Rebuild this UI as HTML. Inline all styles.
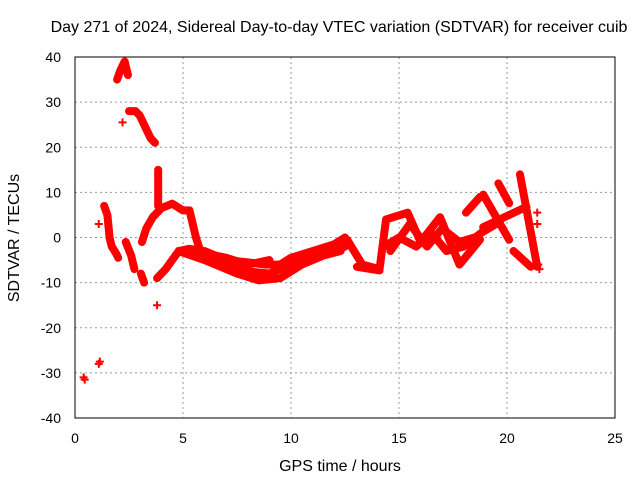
<!DOCTYPE html>
<html><head><meta charset="utf-8"><style>
body{margin:0;background:#fff}
svg{display:block;font-family:"Liberation Sans",sans-serif}
</style></head><body>
<svg id="chart" width="640" height="480" viewBox="0 0 640 480">
<text x="339" y="32" font-size="16" text-anchor="middle">Day 271 of 2024, Sidereal Day-to-day VTEC variation (SDTVAR) for receiver cuib</text>
<g id="grid"></g>
<g id="series"></g>
<rect x="75" y="57" width="540" height="361" fill="none" stroke="#000" stroke-width="1"/>
<g id="ticks"></g>
<text x="340" y="471" font-size="16" text-anchor="middle">GPS time / hours</text>
<text transform="translate(19,238) rotate(-90)" font-size="16" text-anchor="middle">SDTVAR / TECUs</text>
</svg>
<script>
const xTicks=[0,5,10,15,20,25];
const yTicks=[-40,-30,-20,-10,0,10,20,30,40];
// traces: [hour, value]
const traceA=[[1.35,7],[1.5,5],[1.6,0],[1.7,-2],[1.9,-3.5],[2.0,-4.5]];
const traceB=[[2.35,-1],[2.6,-4],[2.75,-7]];
const traceC=[[1.95,35],[2.1,37],[2.3,39],[2.45,36]];
const traceD=[[2.5,28],[2.8,28],[3.0,27],[3.2,25],[3.5,22],[3.7,21]];
const traceE=[[3.05,-8],[3.2,-10]];
const traceF=[[3.85,15],[3.85,7]];
const traceG=[[3.1,-1],[3.3,2],[3.6,4.5],[4.0,6.5],[4.5,7.5],[5.0,6],[5.3,6],[5.4,4],[5.6,0],[5.8,-3],[6.0,-4]];
const traceH=[[3.8,-9],[4.2,-7],[4.5,-5],[4.8,-3],[5.3,-2.5],[6,-3],[7,-5],[8,-5.5],[8.8,-6],[9.5,-6],[10,-4.5],[11,-3],[12,-1.5],[12.5,0]];
const traceI=[[4.8,-3],[6,-5],[7,-6],[8,-7.5],[9,-8],[10,-6],[11,-4.5],[12,-3],[12.5,-2]];
const traceJ=[[5.5,-4],[6.5,-6],[7.5,-8],[8.5,-9.5],[9.5,-9],[10.5,-6],[11.5,-4],[12.3,-3]];
const traceK=[[6,-3.5],[7,-4.5],[8,-6],[9,-5]];
const traceL=[[12.6,-0.5],[13.3,-6],[14.1,-7],[14.4,4],[15.4,5.5],[16,-1],[16.9,4.5],[17.8,-6],[18.75,-0.5]];
const traceM=[[13.05,-6.5],[14.1,-7.3]];
const traceN=[[14.3,-2],[15,0],[15.8,-2],[16.5,1],[17.2,-3],[18,-2],[18.8,1],[19.5,3]];
const traceO=[[14.6,-3],[15.5,3],[16.3,-2],[17,2],[17.8,-1],[18.5,0]];
const traceP=[[18.1,5.5],[18.75,9]];
const traceQ=[[18.9,9.5],[20.1,-0.5]];
const traceR=[[19.6,12],[20.1,7.6]];
const traceS=[[20.6,14],[21.4,-6.5]];
const traceT=[[20.3,-3],[21.1,-6.5]];
const traceU=[[18.9,2.3],[20.9,6.8]];
const points=[[0.4,-31],[0.45,-31.5],[1.15,-27.5],[1.1,-28],[1.1,3],[2.2,25.5],[3.8,-15],[21.4,5.5],[21.4,3],[21.5,-7],[21.45,-6]];
const traces=[traceA,traceB,traceC,traceD,traceE,traceF,traceG,traceH,traceI,traceJ,traceK,traceL,traceM,traceN,traceO,traceP,traceQ,traceR,traceS,traceT,traceU];

const NS="http://www.w3.org/2000/svg";
const X=h=>75+h*21.6;
const Y=v=>237.5-v*4.5125;
const grid=document.getElementById('grid'),ticks=document.getElementById('ticks'),ser=document.getElementById('series');
function mk(t,a,p){const e=document.createElementNS(NS,t);for(const k in a)e.setAttribute(k,a[k]);p.appendChild(e);return e;}
xTicks.forEach(t=>{
  if(t>0&&t<25){const g=mk('line',{x1:X(t),x2:X(t),y1:57,y2:418,stroke:'#999','stroke-dasharray':'2,3'},grid);
  
  }
  const l=mk('text',{x:X(t),y:443,'font-size':14,'text-anchor':'middle'},ticks);l.textContent=t;
  
  
});
yTicks.forEach(t=>{
  if(t>-40&&t<40){const g=mk('line',{x1:75,x2:615,y1:Y(t),y2:Y(t),stroke:'#999','stroke-dasharray':'2,3'},grid);
  
  }
  const l=mk('text',{x:61,y:Y(t)+5,'font-size':14,'text-anchor':'end'},ticks);l.textContent=t;
  
  
});
traces.forEach(tr=>{
  const p=mk('polyline',{points:tr.map(d=>X(d[0])+','+Y(d[1])).join(' '),fill:'none',stroke:'#f00','stroke-width':8,'stroke-linejoin':'round','stroke-linecap':'round'},ser);
  
  
});
points.forEach(d=>{
  const x=X(d[0]),y=Y(d[1]);
  const p=mk('path',{d:`M${x-4},${y}H${x+4}M${x},${y-4}V${y+4}`,stroke:'#f00','stroke-width':2},ser);
  
  
});
</script>
</body></html>
